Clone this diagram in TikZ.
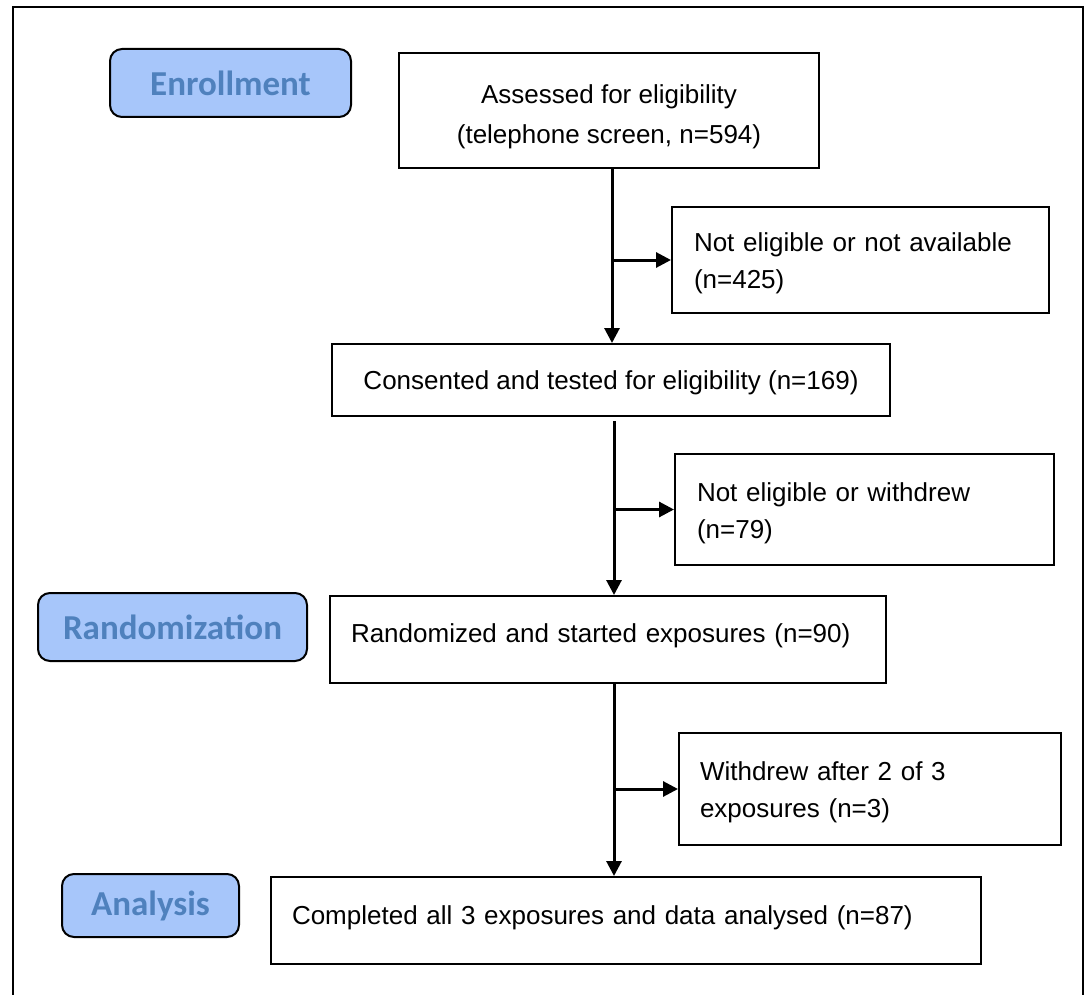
\documentclass[tikz,border=0pt]{standalone}
\usepackage{fontspec}
\setmainfont{Liberation Sans}
\newfontfamily\labfont{Carlito}
\usetikzlibrary{arrows.meta}
\definecolor{labfill}{RGB}{167,198,250}
\definecolor{labtext}{RGB}{79,129,189}
\begin{document}
\begin{tikzpicture}[x=1pt,y=-1pt,
  box/.style={draw=black, line width=2pt, rectangle, inner ysep=0pt, anchor=north west,
    font=\fontsize{26pt}{37pt}\selectfont},
  phase/.style={draw=black, line width=2pt, rectangle, rounded corners=12pt, fill=labfill,
    text=labtext, anchor=north west, inner sep=0pt,
    font=\labfont\bfseries\fontsize{35pt}{40pt}\selectfont},
  arr/.style={line width=3pt, -{Triangle[length=15pt,width=15pt]}},
  frame/.style={line width=2pt}
]
\useasboundingbox (0,0) rectangle (1087,995);
\draw[frame] (13,995) -- (13,7) -- (1083,7) -- (1083,995);

% phase labels
\node[phase, minimum width=241pt, minimum height=68pt] (enr) at (109,48) {Enrollment};
\node[phase, minimum width=269pt, minimum height=68pt] (rnd) at (37,592) {Randomization};
\node[phase, minimum width=177pt, minimum height=63pt] (ana) at (61,873) {Analysis};

% main boxes
\node[box, align=center, inner xsep=0pt, minimum width=420pt, minimum height=115pt, text height=72pt,
  font=\fontsize{26pt}{40pt}\selectfont]
  (b1) at (398,52) {Assessed for eligibility\\(telephone screen, n=594)};
\node[box, align=center, inner xsep=0pt, minimum width=558pt, minimum height=72pt, text height=19pt, text depth=1pt]
  (b2) at (331,343) {Consented and tested for eligibility (n=169)};
\node[box, align=left, inner xsep=21pt, text width=514pt, minimum height=87pt, text height=19pt, text depth=14pt]
  (b3) at (329,595) {Randomized and started exposures (n=90)};
\node[box, align=left, inner xsep=21pt, text width=668pt, minimum height=87pt, text height=19pt, text depth=12pt]
  (b4) at (270,876) {Completed all 3 exposures and data analysed (n=87)};

% side boxes
\node[box, align=left, inner xsep=22pt, text width=333pt, minimum height=106pt, text height=26pt]
  (s1) at (671,206) {Not eligible or not available\\(n=425)};
\node[box, align=left, inner xsep=22pt, text width=335pt, minimum height=111pt, text height=26pt]
  (s2) at (674,453) {Not eligible or withdrew\\(n=79)};
\node[box, align=left, inner xsep=21pt, text width=340pt, minimum height=112pt, text height=26pt]
  (s3) at (678,732) {Withdrew after 2 of 3\\exposures (n=3)};

% trunks
\coordinate (t1) at (612,0);
\coordinate (t2) at (614,0);
\coordinate (t2top) at (614,421);

\draw[arr] (b1.south -| t1) -- (b2.north -| t1);
\draw[arr] (s1.west -| t1) -- (s1.west);
\draw[arr] (t2top) -- (b3.north -| t2);
\draw[arr] (s2.west -| t2) -- (s2.west);
\draw[arr] (b3.south -| t2) -- (b4.north -| t2);
\draw[arr] (s3.west -| t2) -- (s3.west);
\end{tikzpicture}
\end{document}
